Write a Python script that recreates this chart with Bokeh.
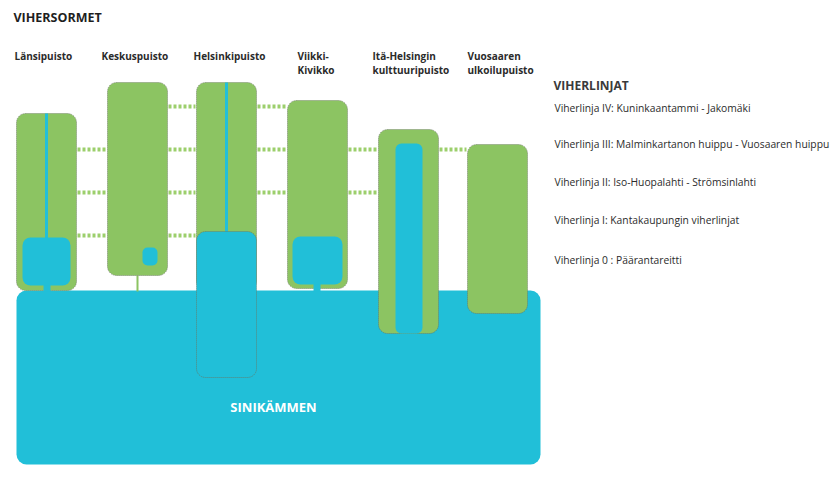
from bokeh.plotting import figure
from bokeh.models import Range1d
from bokeh.embed import file_html
from bokeh.resources import INLINE
from bokeh.core.properties import value

# ---------------- data ----------------
title = "VIHERSORMET"
legend_title = "VIHERLINJAT"
center_label = "SINIKÄMMEN"

park_line1 = ["Länsipuisto", "Keskuspuisto", "Helsinkipuisto", "Viikki-", "Itä-Helsingin", "Vuosaaren"]
park_line2 = ["", "", "", "Kivikko", "kulttuuripuisto", "ulkoilupuisto"]

viherlinja_labels = [
    "Viherlinja IV: Kuninkaantammi - Jakomäki",
    "Viherlinja III: Malminkartanon huippu - Vuosaaren huippu",
    "Viherlinja II: Iso-Huopalahti - Strömsinlahti",
    "Viherlinja I: Kantakaupungin viherlinjat",
    "Viherlinja 0 : Päärantareitti",
]
# which parks each green line connects (first, last park index)
viherlinja_from = [1, 0, 0, 0]
viherlinja_to = [3, 5, 4, 2]

# ---------------- layout (diagram geometry, in page pixels) ----------------
box_left = [16, 107, 196, 287, 378, 467]
box_right = [76, 167, 256, 347, 438, 527]
box_top = [113, 82, 82, 100, 129, 144]
box_bottom = [290, 275, 290, 288, 333, 313]
label_x = [14, 101, 193, 297, 372, 467]
link_y = [106, 149, 192, 235]
legend_y = [107, 143, 181, 219, 259]

GREEN = "#8cc462"
LINK = "#9ccf6c"
BLUE = "#21bfd8"
BORDER = "#6a7560"
TXT = "#2b2b2b"
FONT = value("Open Sans")

p = figure(width=832, height=486, output_backend="svg", toolbar_location=None,
           x_range=Range1d(0, 832), y_range=Range1d(486, 0),
           min_border=0, outline_line_color=None, background_fill_color="white")
p.axis.visible = False
p.grid.visible = False

# big blue base (Sinikämmen)
p.quad(left=[16], right=[540], top=[290], bottom=[464], fill_color=BLUE,
       line_color=None, border_radius=10)

# green links (viherlinjat)
xs0, xs1, ys = [], [], []
for k in range(len(viherlinja_from)):
    for i in range(viherlinja_from[k], viherlinja_to[k]):
        xs0.append(box_right[i] + 1)
        xs1.append(box_left[i + 1] - 1)
        ys.append(link_y[k])
p.segment(x0=xs0, y0=ys, x1=xs1, y1=ys, line_color=LINK, line_width=4, line_dash="3 2")

# Keskuspuisto stem
p.segment(x0=[137], y0=[275], x1=[137], y1=[291], line_color=GREEN, line_width=2)

# green park boxes
p.quad(left=box_left, right=box_right, top=box_top, bottom=box_bottom,
       fill_color=GREEN, line_color=BORDER, line_width=1, line_dash="1 1",
       line_alpha=0.8, border_radius=9)

# blue inner details
p.segment(x0=[46, 226], y0=[113, 82], x1=[46, 226], y1=[238, 232],
          line_color=BLUE, line_width=3)
# small stems to base
p.quad(left=[43, 313], right=[50, 320], top=[283, 283], bottom=[291, 291],
       fill_color=BLUE, line_color=None)
# squares
p.quad(left=[22, 292], right=[70, 342], top=[237, 236],
       bottom=[285, 284], fill_color=BLUE, line_color=None, border_radius=8)
p.quad(left=[142], right=[157], top=[247], bottom=[265], fill_color=BLUE,
       line_color=None, border_radius=5)
# Itä-Helsinki inner strip
p.quad(left=[395], right=[422], top=[143], bottom=[333], fill_color=BLUE,
       line_color=None, border_radius=6)
# Helsinkipuisto deep block
p.quad(left=[196], right=[256], top=[231], bottom=[377], fill_color=BLUE,
       line_color=BORDER, line_width=1, line_dash="1 1", line_alpha=0.8,
       border_radius=9)

# texts
p.text(x=[13], y=[17], text=[title], text_font=FONT, text_font_style="bold",
       text_font_size="12.5px", text_color="#1e1e1e", text_baseline="middle")
p.text(x=label_x, y=[55] * 6, text=park_line1, text_font=FONT,
       text_font_style="bold", text_font_size="10px", text_color=TXT,
       text_baseline="middle")
p.text(x=label_x, y=[69] * 6, text=park_line2, text_font=FONT,
       text_font_style="bold", text_font_size="10px", text_color=TXT,
       text_baseline="middle")
p.text(x=[273], y=[406], text=[center_label], text_font=FONT,
       text_font_style="bold", text_font_size="13px", text_color="white",
       text_align="center", text_baseline="middle")
p.text(x=[553], y=[85], text=[legend_title], text_font=FONT,
       text_font_style="bold", text_font_size="12px", text_color="#3a3a3a",
       text_baseline="middle")
p.text(x=[554] * 5, y=legend_y, text=viherlinja_labels, text_font=FONT,
       text_font_size="10.3px", text_color=TXT, text_baseline="middle")

open("out.html", "w").write(file_html(p, INLINE))
